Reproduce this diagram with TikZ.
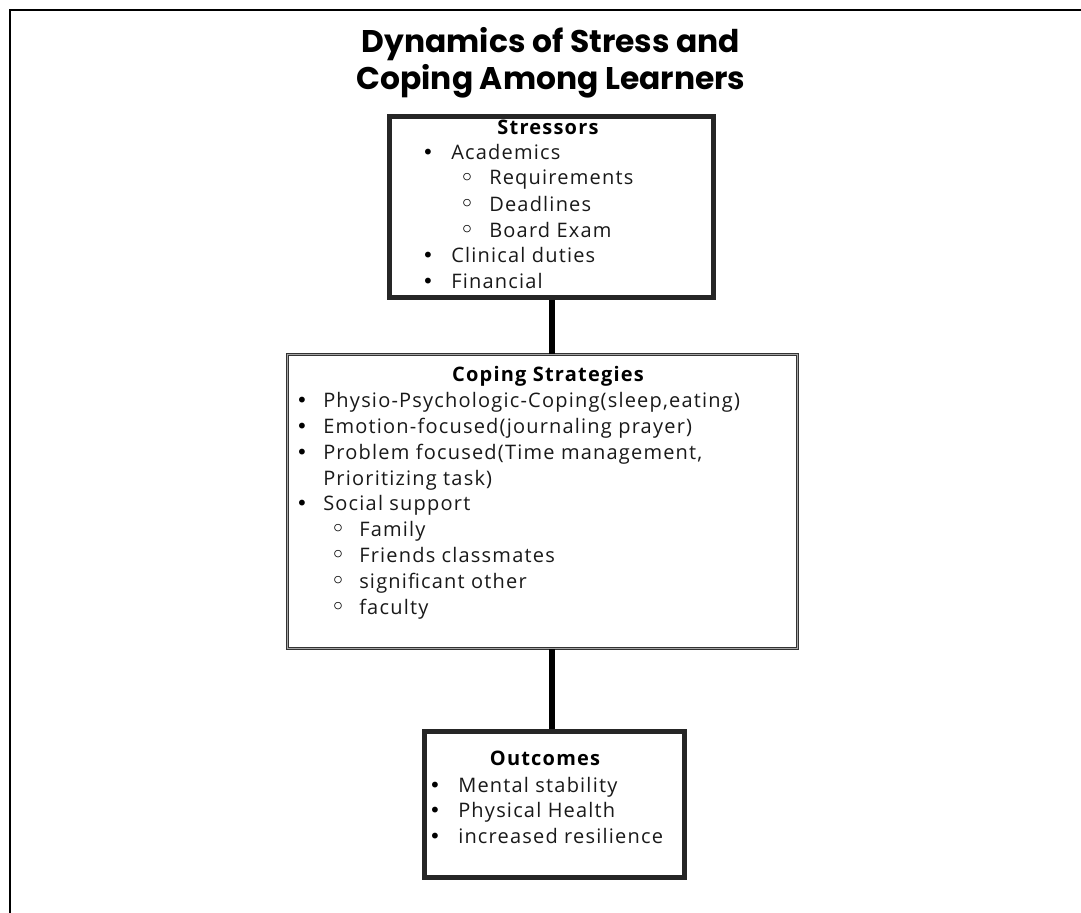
\documentclass[tikz,border=0pt]{standalone}
\usepackage{fontspec}
\setmainfont{Open Sans}[LetterSpace=6]
\newfontfamily\titlefont{Poppins}
\newfontfamily\symfont{DejaVu Sans}
\begin{document}
\begin{tikzpicture}[x=0.75pt,y=-0.75pt,
  boxthick/.style={draw=black!85,line width=3.6pt,inner sep=0pt,anchor=north west},
  boxdouble/.style={draw=black!80,double=black!35,double distance=0.9pt,line width=0.8pt,inner sep=0pt,anchor=north west},
  conn/.style={draw=black,line width=3.8pt},
  head/.style={font=\bfseries\fontsize{15}{17}\selectfont,anchor=base,inner sep=0pt},
  txt/.style={font=\fontsize{15}{17}\selectfont,anchor=base west,inner sep=0pt,text=black!90},
  bul/.style={font=\symfont\fontsize{15}{17}\selectfont,anchor=base,inner sep=0pt},
  sbul/.style={font=\symfont\fontsize{19}{21}\selectfont,anchor=base,inner sep=0pt},
  ttl/.style={font=\titlefont\bfseries\fontsize{23.5}{26}\selectfont,anchor=base,inner sep=0pt}
]
\useasboundingbox (0,0) rectangle (1081,913);
\fill[white] (0,0) rectangle (1081,913);
% frame
\coordinate (fTL) at (10,10);
\coordinate (fTR) at (1081,10);
\coordinate (fBL) at (10,913);
\draw[line width=2.2pt] (fBL) -- (fTL) -- (fTR);
% title
\node[ttl] (t1) at (551,53) {Dynamics of Stress and};
\node[ttl] (t2) at (551,90) {Coping Among Learners};
% boxes
\node[boxthick,minimum width=324*0.75pt,minimum height=181*0.75pt] (s) at (387,114) {};
\node[boxdouble,minimum width=510*0.75pt,minimum height=294*0.75pt] (c) at (287,354) {};
\node[boxthick,minimum width=260*0.75pt,minimum height=146*0.75pt] (o) at (422,729) {};
% connectors
\draw[conn] (s.south -| 552,0) -- (c.north -| 552,0);
\draw[conn] (c.south -| 552,0) -- (o.north -| 552,0);
% Stressors
\node[head] (sh) at (548,135) {Stressors};
\node[bul] (sb1) at (428,160) {•}; \node[txt] (st1) at (451,160) {Academics};
\node[sbul] (sb2) at (467,186) {◦}; \node[txt] (st2) at (489,185) {Requirements};
\node[sbul] (sb3) at (467,212) {◦}; \node[txt] (st3) at (489,211) {Deadlines};
\node[sbul] (sb4) at (467,238) {◦}; \node[txt] (st4) at (489,237) {Board Exam};
\node[bul] (sb5) at (428,262) {•}; \node[txt] (st5) at (451,262) {Clinical duties};
\node[bul] (sb6) at (428,288) {•}; \node[txt] (st6) at (451,288) {Financial};
% Coping
\node[head] (ch) at (548,381) {Coping Strategies};
\node[bul] (cb1) at (302,407) {•}; \node[txt] (ct1) at (323,407) {Physio-Psychologic-Coping(sleep,eating)};
\node[bul] (cb2) at (302,433) {•}; \node[txt] (ct2) at (323,433) {Emotion-focused(journaling prayer)};
\node[bul] (cb3) at (302,459) {•}; \node[txt] (ct3) at (323,459) {Problem focused(Time management,};
\node[txt] (ct3b) at (323,485) {Prioritizing task)};
\node[bul] (cb4) at (302,510) {•}; \node[txt] (ct4) at (323,510) {Social support};
\node[sbul] (cb5) at (338,537) {◦}; \node[txt] (ct5) at (359,536) {Family};
\node[sbul] (cb6) at (338,563) {◦}; \node[txt] (ct6) at (359,562) {Friends classmates};
\node[sbul] (cb7) at (338,589) {◦}; \node[txt] (ct7) at (359,588) {significant other};
\node[sbul] (cb8) at (338,615) {◦}; \node[txt] (ct8) at (359,614) {faculty};
% Outcomes
\node[head] (oh) at (545,765) {Outcomes};
\node[bul] (ob1) at (435,792) {•}; \node[txt] (ot1) at (458,792) {Mental stability};
\node[bul] (ob2) at (435,817) {•}; \node[txt] (ot2) at (458,817) {Physical Health};
\node[bul] (ob3) at (435,843) {•}; \node[txt] (ot3) at (458,843) {increased resilience};
\end{tikzpicture}
\end{document}
